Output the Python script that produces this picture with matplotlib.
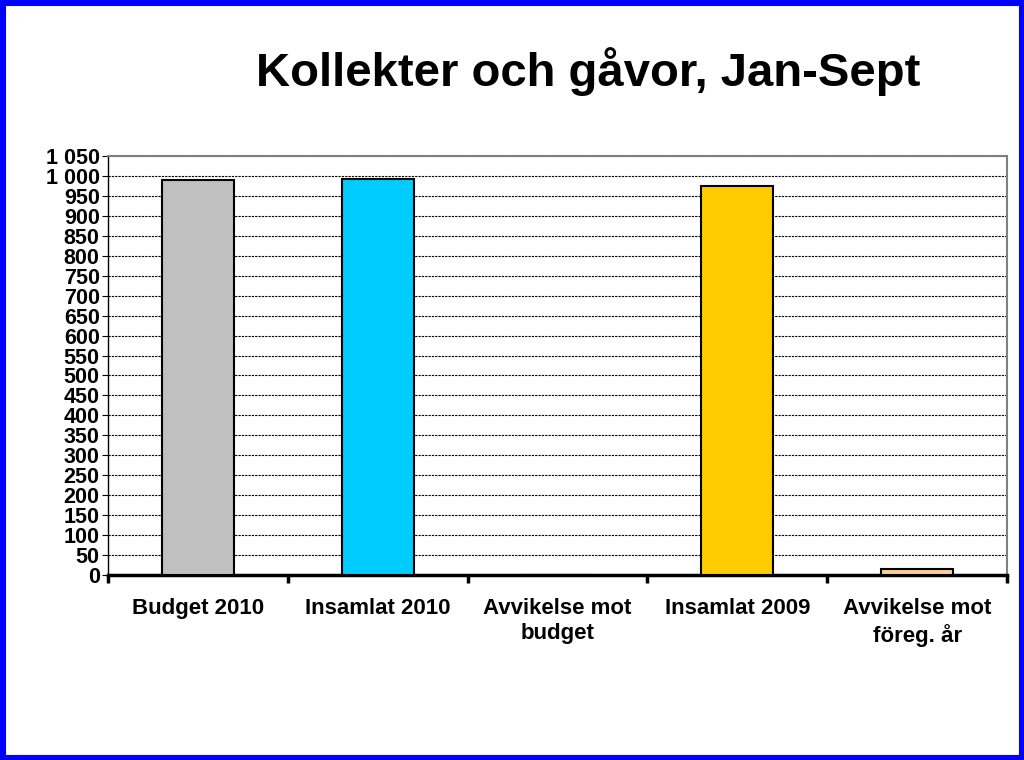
import matplotlib

matplotlib.use("Agg")
import matplotlib.pyplot as plt
from matplotlib.patches import Rectangle

categories = ["Budget 2010", "Insamlat 2010", "Avvikelse mot\nbudget",
              "Insamlat 2009", "Avvikelse mot\nföreg. år"]
values = [990, 993, 0, 975, 14]
colors = ["#c0c0c0", "#00ccff", "#ffffff", "#ffcc00", "#ffcc99"]
yticks = list(range(0, 1051, 50))
ytick_labels = [f"{v:,}".replace(",", " ") for v in yticks]

fig = plt.figure(figsize=(10.24, 7.6), dpi=100)
fig.patches.append(Rectangle((0, 0), 1, 1, transform=fig.transFigure,
                             fill=False, edgecolor="#0000ff", linewidth=8))
ax = fig.add_axes([108 / 1024, 1 - 575 / 760, 899 / 1024, 419 / 760])

x = range(len(categories))
ax.bar(x, values, width=0.4, color=colors, edgecolor="black", linewidth=1.5, zorder=3)
ax.set_xlim(-0.5, len(categories) - 0.5)
ax.set_ylim(0, 1050)
ax.set_yticks(yticks)
ax.set_yticklabels(ytick_labels, fontsize=15.5, fontweight="bold", family="Liberation Sans")
ax.yaxis.grid(True, linestyle=(0, (2, 1)), color="black", linewidth=0.8, zorder=0)
ax.set_xticks([i - 0.5 for i in range(len(categories) + 1)], minor=False)
ax.set_xticklabels([])
ax.tick_params(axis="x", length=6, width=2.5, direction="out")
ax.tick_params(axis="y", length=4, pad=2)
for i, c in enumerate(categories):
    ax.text(i, -58, c, ha="center", va="top", fontsize=16, fontweight="bold",
            family="Liberation Sans", linespacing=1.25)
for s in ["top", "right"]:
    ax.spines[s].set_color("#808080")
    ax.spines[s].set_linewidth(1.5)
ax.spines["left"].set_linewidth(1)
ax.spines["bottom"].set_linewidth(2.5)

fig.text(588 / 1024, 1 - 72 / 760, "Kollekter och gåvor, Jan-Sept", ha="center",
         va="center", fontsize=34, fontweight="bold", family="Liberation Sans")
fig.savefig("out.png", dpi=100)
